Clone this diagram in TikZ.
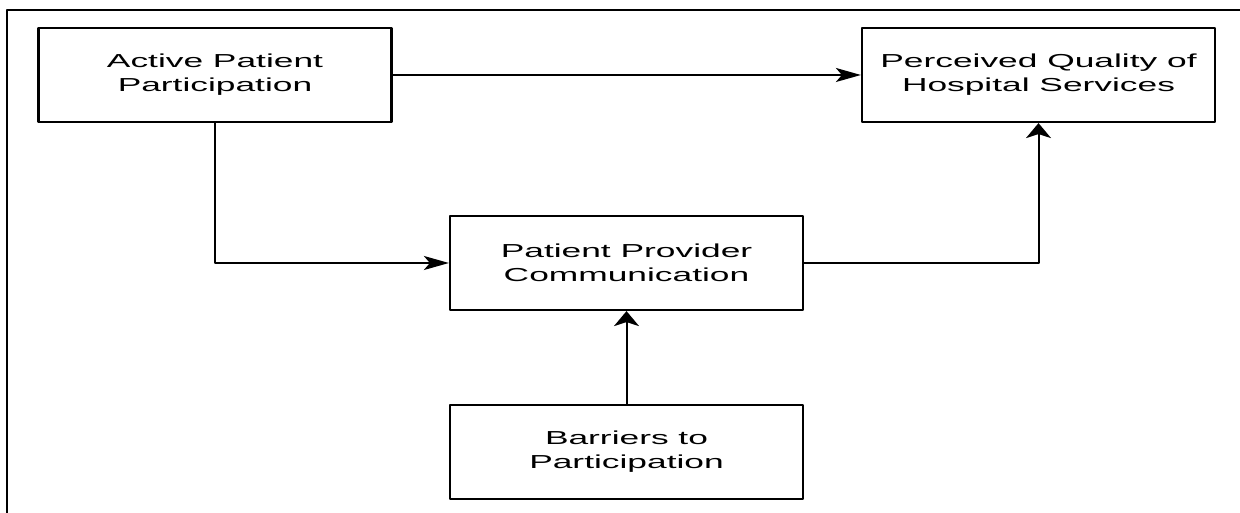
\documentclass[tikz,border=0pt]{standalone}
\usepackage{fontspec}
\usetikzlibrary{arrows.meta}
\newfontfamily\boxfont[FakeStretch=1.88]{Liberation Sans}

\tikzset{
    factorbox/.style={draw, line width=1.1pt, inner sep=0pt, align=center,
        minimum width=176.5pt, minimum height=47pt,
        font=\boxfont\fontsize{9.4}{12}\selectfont},
    harrow/.style={line width=1pt, -{Stealth[length=12.5pt, width=7pt, inset=3pt]}},
    varrow/.style={line width=1pt, -{Stealth[length=7.5pt, width=12.5pt, inset=2pt]}}
}

\begin{document}
\begin{tikzpicture}[x=0.5pt, y=0.5pt, line join = round]
    \useasboundingbox (0,0) rectangle (1240,513);
    \draw[line width=1pt] (7,0) -- (7,503) -- (1240,503);

    \node[factorbox] (A) at (215,438) {Active Patient\\Participation};
    \node[factorbox] (Q) at (1038.5,438) {Perceived Quality of\\Hospital Services};
    \node[factorbox] (C) at (626.5,250) {Patient Provider\\Communication};
    \node[factorbox] (B) at (626.5,61) {Barriers to\\Participation};

    %\draw[dashed] (A) -- (B);
    \draw[harrow] (A.east) -- (Q.west);
    \draw[harrow] (A.south) |- (C.west);
    \draw[varrow] (C.east) -| (Q.south);
    \draw[varrow] (B.north) -- (C.south);
\end{tikzpicture}
\end{document}
